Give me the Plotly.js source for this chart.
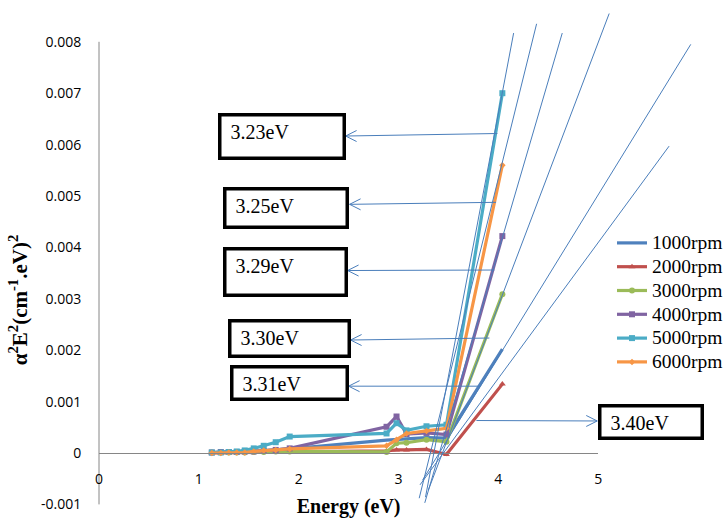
<!DOCTYPE html>
<html><head><meta charset="utf-8">
<script src="https://cdn.plot.ly/plotly-3.0.1.min.js"></script>
<style>html,body{margin:0;padding:0;background:#fff;}#chart{width:728px;height:518px;}</style>
</head><body><div id="chart"></div>
<script>
// ---------- data ----------
const energy  = [1.13, 1.22, 1.30, 1.38, 1.46, 1.55, 1.65, 1.77, 1.91, 2.88, 2.98, 3.08, 3.28, 3.48, 4.04];
const rpm1000 = [0.00001, 0.00001, 0.00002, 0.00002, 0.00003, 0.00003, 0.00004, 0.00006, 0.00008, 0.00025, 0.00026, 0.00028, 0.00030, 0.00029, 0.00202];
const rpm2000 = [0.00000, 0.00000, 0.00001, 0.00001, 0.00001, 0.00001, 0.00002, 0.00002, 0.00002, 0.00004, 0.00006, 0.00006, 0.00007, -0.00003, 0.00134];
const rpm3000 = [0.00001, 0.00001, 0.00001, 0.00001, 0.00001, 0.00002, 0.00002, 0.00003, 0.00003, 0.00002, 0.00019, 0.00020, 0.00026, 0.00022, 0.00309];
const rpm4000 = [0.00001, 0.00002, 0.00002, 0.00002, 0.00003, 0.00003, 0.00004, 0.00006, 0.00009, 0.00051, 0.00071, 0.00037, 0.00039, 0.00036, 0.00422];
const rpm5000 = [0.00001, 0.00001, 0.00002, 0.00003, 0.00005, 0.00009, 0.00014, 0.00021, 0.00032, 0.00038, 0.00058, 0.00044, 0.00052, 0.00055, 0.00700];
const rpm6000 = [0.00000, 0.00000, 0.00001, 0.00001, 0.00001, 0.00003, 0.00005, 0.00006, 0.00008, 0.00014, 0.00026, 0.00038, 0.00043, 0.00048, 0.00560];
const seriesNames = ['1000rpm', '2000rpm', '3000rpm', '4000rpm', '5000rpm', '6000rpm'];

// band-gap labels and the extrapolated tangent lines (eV, α²E²)
const bandGapLabels = ['3.23eV', '3.25eV', '3.29eV', '3.30eV', '3.31eV', '3.40eV'];
const tangentTopX    = [4.153, 4.383, 4.640, 5.110, 5.927, 5.710];
const tangentTopY    = [0.00817, 0.00835, 0.00817, 0.00855, 0.00795, 0.00597];
const tangentBottomX = [3.270, 3.207, 3.263, 3.299, 3.240, 3.215];
const tangentBottomY = [-0.00086, -0.00088, -0.00097, -0.00072, -0.00053, -0.00062];

// arrows from tangent line to label (eV, α²E²)
const arrowFromX = [3.99, 3.977, 3.96, 3.91, 3.81, 3.78];
const arrowFromY = [0.006216, 0.004877, 0.003560, 0.002237, 0.001300, 0.000632];
const arrowToX   = [2.47, 2.51, 2.49, 2.52, 2.50, 4.99];
const arrowToY   = [0.006167, 0.004838, 0.003550, 0.002198, 0.001300, 0.000623];

const xTickVals = [0, 1, 2, 3, 4, 5];
const yTickVals = [-0.001, 0, 0.001, 0.002, 0.003, 0.004, 0.005, 0.006, 0.007, 0.008];
const yTickText = ['-0.001', '0', '0.001', '0.002', '0.003', '0.004', '0.005', '0.006', '0.007', '0.008'];

// ---------- geometry / styles ----------
const W = 728, H = 518, L = 99;
const ZERO_Y = 453, PX_PER_X = 100, PX_PER_Y = 51400;
const vx = px => (px - L) / PX_PER_X;
const vy = py => (ZERO_Y - py) / PX_PER_Y;
const PLOT_TOP = 26;       // top of the tick-label axis
const TITLE_TOP = 82;      // top of the (title-only) axis used to centre the y title

const colors = ['#4F81BD', '#C0504D', '#9BBB59', '#8064A2', '#4BACC6', '#F79646'];
const symbols = ['circle', 'triangle-up', 'circle', 'square', 'square', 'diamond'];
const msizes = [0, 6, 6, 6, 6, 5];
const seriesData = [rpm1000, rpm2000, rpm3000, rpm4000, rpm5000, rpm6000];
const lineBlue = '#4A7EBB';
const serif = 'Liberation Serif, Times New Roman, serif';
const sans = 'Open Sans, Liberation Sans, sans-serif';

const traces = seriesData.map((ys, i) => ({
  type: 'scatter', x: energy, y: ys,
  name: '<span style="font-size:19.5px">' + seriesNames[i] + '</span>',
  xaxis: 'x', yaxis: 'y',
  mode: msizes[i] ? 'lines+markers' : 'lines',
  line: {color: colors[i], width: 3.2},
  marker: {symbol: symbols[i], size: msizes[i], color: colors[i]},
  cliponaxis: false
}));

// tangent lines
const tx = [], ty = [];
tangentTopX.forEach((_, i) => {
  tx.push(tangentBottomX[i], tangentTopX[i], null);
  ty.push(tangentBottomY[i], tangentTopY[i], null);
});
traces.push({type: 'scatter', mode: 'lines', x: tx, y: ty, xaxis: 'x2', yaxis: 'y2',
  line: {color: lineBlue, width: 1}, showlegend: false, hoverinfo: 'skip'});

// arrows (shaft + open head)
const HEAD_DX = 11 / PX_PER_X, HEAD_DY = 5.5 / PX_PER_Y;
const ax = [], ay = [];
arrowFromX.forEach((_, i) => {
  ax.push(arrowFromX[i], arrowToX[i], null);
  ay.push(arrowFromY[i], arrowToY[i], null);
  const dir = Math.sign(arrowFromX[i] - arrowToX[i]);
  ax.push(arrowToX[i] + dir * HEAD_DX, arrowToX[i], arrowToX[i] + dir * HEAD_DX, null);
  ay.push(arrowToY[i] + HEAD_DY, arrowToY[i], arrowToY[i] - HEAD_DY, null);
});
traces.push({type: 'scatter', mode: 'lines', x: ax, y: ay, xaxis: 'x2', yaxis: 'y2',
  line: {color: lineBlue, width: 1}, showlegend: false, hoverinfo: 'skip'});

// empty trace so the title-only y axis gets drawn
traces.push({type: 'scatter', mode: 'lines', x: [], y: [], xaxis: 'x', yaxis: 'y3',
  showlegend: false, hoverinfo: 'skip'});

// label boxes (pixel frames of the drawn text boxes)
const boxFrames = [
  [218, 113, 346, 160], [223, 187, 349, 229], [223, 247, 348, 297],
  [228, 319, 351, 358], [230, 365, 349, 401], [599, 404, 705, 440]
];
const BW = 3.5, BP = 4;
const annotations = bandGapLabels.map((t, i) => {
  const [l, tp, r, b] = boxFrames[i];
  return {
    xref: 'x2', yref: 'y2', x: vx(l), y: vy(tp), xanchor: 'left', yanchor: 'top',
    width: (r - l) - 2 * (BW + BP), height: (b - tp) - 2 * (BW + BP),
    align: 'left', valign: 'top', showarrow: false,
    text: '\u00A0' + t, font: {family: serif, size: 20, color: '#000'},
    bgcolor: '#ffffff', bordercolor: '#000000', borderwidth: BW, borderpad: BP
  };
});

const layout = {
  width: W, height: H,
  margin: {l: L, r: 0, t: 0, b: 0, pad: 0},
  paper_bgcolor: '#ffffff', plot_bgcolor: 'rgba(0,0,0,0)',
  showlegend: true, hovermode: false,
  xaxis: {
    domain: [0, 500 / (W - L)], range: [0, 5], anchor: 'free', position: (H - ZERO_Y) / H,
    showline: true, linecolor: '#868686', linewidth: 1, showgrid: false, zeroline: false,
    tickvals: xTickVals, ticks: 'outside', ticklen: 13, tickcolor: 'rgba(0,0,0,0)',
    tickfont: {family: sans, size: 14, color: '#000'},
    title: {text: 'Energy (eV)', standoff: 14, font: {family: serif, size: 20, color: '#000', weight: 'bold'}}
  },
  yaxis: {
    domain: [0, (H - PLOT_TOP) / H], range: [vy(H), vy(PLOT_TOP)], anchor: 'x',
    showline: false, showgrid: false, zeroline: false,
    tickvals: yTickVals, ticktext: yTickText, ticks: 'outside', ticklen: 14, tickcolor: 'rgba(0,0,0,0)',
    tickfont: {family: sans, size: 14, color: '#000'}
  },
  yaxis3: {
    domain: [0, (H - TITLE_TOP) / H], range: [vy(H), vy(TITLE_TOP)], anchor: 'free', position: 0,
    showline: false, showgrid: false, zeroline: false, showticklabels: false, ticks: '',
    title: {text: 'α<sup>2</sup>E<sup>2</sup>(cm<sup>-1</sup>.eV)<sup>2</sup>', standoff: 64,
            font: {family: serif, size: 21, color: '#000', weight: 'bold'}}
  },
  xaxis2: {domain: [0, 1], range: [0, (W - L) / PX_PER_X], anchor: 'y2', visible: false},
  yaxis2: {domain: [0, 1], range: [vy(H), vy(0)], anchor: 'x2', visible: false},
  shapes: [{type: 'line', xref: 'paper', yref: 'y', x0: 0, x1: 0, y0: -0.001, y1: 0.008,
            line: {color: '#868686', width: 1}, layer: 'below'}],
  legend: {x: (613 - L) / (W - L), xanchor: 'left', y: (H - 226) / H, yanchor: 'top',
           font: {family: serif, size: 16, color: '#000'}, bgcolor: 'rgba(0,0,0,0)',
           borderwidth: 0, tracegroupgap: 0},
  annotations: annotations
};

Plotly.newPlot('chart', traces, layout, {staticPlot: true, displayModeBar: false});
</script></body></html>
